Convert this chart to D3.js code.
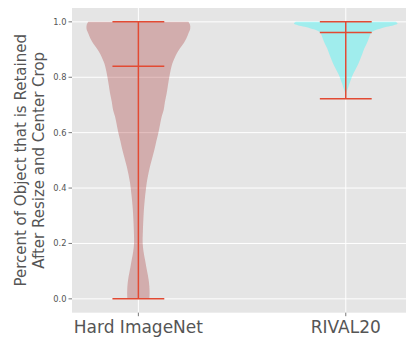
<!DOCTYPE html>
<html><head><meta charset="utf-8">
<script src="https://cdn.jsdelivr.net/npm/d3@7"></script>
<style>body{margin:0;background:#fff}svg{display:block}</style>
</head><body>
<script>
const categories = ["Hard ImageNet", "RIVAL20"];
const yTicks = [0.0, 0.2, 0.4, 0.6, 0.8, 1.0];
// KDE profiles: [value, relative density] (density normalised to max 1)
const hardValues = [1.0,0.99,0.975,0.958,0.94,0.922,0.904,0.886,0.868,0.85,0.826,0.802,0.772,0.742,0.71,0.682,0.658,0.63,0.6,0.57,0.538,0.508,0.478,0.448,0.418,0.388,0.358,0.32,0.286,0.245,0.202,0.17,0.142,0.118,0.094,0.07,0.045,0.02,0.0];
const hardDensity = [0.965,0.995,1.0,0.965,0.925,0.87,0.8,0.74,0.695,0.655,0.623,0.598,0.571,0.546,0.511,0.488,0.45,0.419,0.386,0.347,0.309,0.266,0.224,0.189,0.16,0.141,0.123,0.106,0.096,0.087,0.083,0.1,0.127,0.15,0.174,0.197,0.212,0.216,0.212];
const rivalValues = [1.0,0.994,0.988,0.982,0.976,0.97,0.964,0.958,0.94,0.922,0.904,0.886,0.868,0.85,0.832,0.814,0.8,0.79,0.778,0.766,0.748,0.735,0.7227];
const rivalDensity = [0.965,1.0,0.926,0.791,0.675,0.565,0.511,0.482,0.444,0.405,0.357,0.322,0.284,0.245,0.197,0.149,0.116,0.096,0.073,0.052,0.019,0.008,0.002];
// summary stats: [min, median, max]
const hardStats = [0.0, 0.84, 1.0];
const rivalStats = [0.7227, 0.962, 1.0];

const W = 406, H = 339;
const m = {left: 72, top: 8, right: 406, bottom: 312.7};
const svg = d3.select("body").append("svg").attr("width", W).attr("height", H);

const x = d3.scaleLinear().domain([0.68, 2.32]).range([m.left, m.left + 1.64 * 207.4]);
const y = d3.scaleLinear().domain([-0.05, 1.05]).range([m.bottom, m.top]);
const wScale = d3.scaleLinear().domain([0, 1]).range([0, 0.25]);

svg.append("defs").append("clipPath").attr("id", "clip")
  .append("rect").attr("x", m.left).attr("y", m.top).attr("width", m.right - m.left).attr("height", m.bottom - m.top);

svg.append("rect").attr("x", m.left).attr("y", m.top).attr("width", m.right - m.left).attr("height", m.bottom - m.top).attr("fill", "#E5E5E5");

const g = svg.append("g").attr("clip-path", "url(#clip)");
// grid
g.selectAll(".gy").data(yTicks).enter().append("line")
  .attr("x1", m.left).attr("x2", m.right).attr("y1", d => y(d)).attr("y2", d => y(d))
  .attr("stroke", "#fff").attr("stroke-width", 1);
g.selectAll(".gx").data([1, 2]).enter().append("line")
  .attr("x1", d => x(d)).attr("x2", d => x(d)).attr("y1", m.top).attr("y2", m.bottom)
  .attr("stroke", "#fff").attr("stroke-width", 1);

const violins = [
  {pos: 1, vals: hardValues, dens: hardDensity, stats: hardStats, fill: "brown"},
  {pos: 2, vals: rivalValues, dens: rivalDensity, stats: rivalStats, fill: "cyan"}
];

violins.forEach(v => {
  const pts = v.vals.map((val, i) => ({v: val, d: v.dens[i]}));
  const area = d3.area()
    .y(d => y(d.v))
    .x0(d => x(v.pos - wScale(d.d)))
    .x1(d => x(v.pos + wScale(d.d)))
    .curve(d3.curveCatmullRom);
  g.append("path").datum(pts).attr("d", area)
    .attr("fill", v.fill).attr("fill-opacity", 0.3).attr("stroke", "none");
  const lc = "#E24A33";
  g.append("line").attr("x1", x(v.pos)).attr("x2", x(v.pos))
    .attr("y1", y(v.stats[0])).attr("y2", y(v.stats[2]))
    .attr("stroke", lc).attr("stroke-width", 1.5);
  v.stats.forEach(s => {
    g.append("line").attr("x1", x(v.pos - 0.125)).attr("x2", x(v.pos + 0.125))
      .attr("y1", y(s)).attr("y2", y(s)).attr("stroke", lc).attr("stroke-width", 1.5);
  });
});

// y axis ticks
const ya = svg.append("g");
yTicks.forEach(t => {
  ya.append("line").attr("x1", m.left - 3.5).attr("x2", m.left).attr("y1", y(t)).attr("y2", y(t))
    .attr("stroke", "#555").attr("stroke-width", 0.8);
  ya.append("text").attr("x", m.left - 5.5).attr("y", y(t)).attr("dy", "0.35em")
    .attr("text-anchor", "end").attr("font-family", "DejaVu Sans").attr("font-size", 8.3)
    .attr("fill", "#555").text(t.toFixed(1));
});
// x axis ticks
categories.forEach((c, i) => {
  const px = x(i + 1);
  svg.append("line").attr("x1", px).attr("x2", px).attr("y1", m.bottom).attr("y2", m.bottom + 3.5)
    .attr("stroke", "#555").attr("stroke-width", 0.8);
  svg.append("text").attr("x", px).attr("y", 332.5).attr("text-anchor", "middle")
    .attr("font-family", "DejaVu Sans").attr("font-size", 17).attr("fill", "#555").text(c);
});
// y label
const yl = svg.append("text").attr("transform", `translate(0,${(m.top + m.bottom) / 2}) rotate(-90)`)
  .attr("text-anchor", "middle").attr("font-family", "DejaVu Sans").attr("font-size", 15).attr("fill", "#555");
yl.append("tspan").attr("x", 0).attr("y", 25.5).text("Percent of Object that is Retained");
yl.append("tspan").attr("x", 0).attr("y", 43.5).text("After Resize and Center Crop");
</script>
</body></html>
